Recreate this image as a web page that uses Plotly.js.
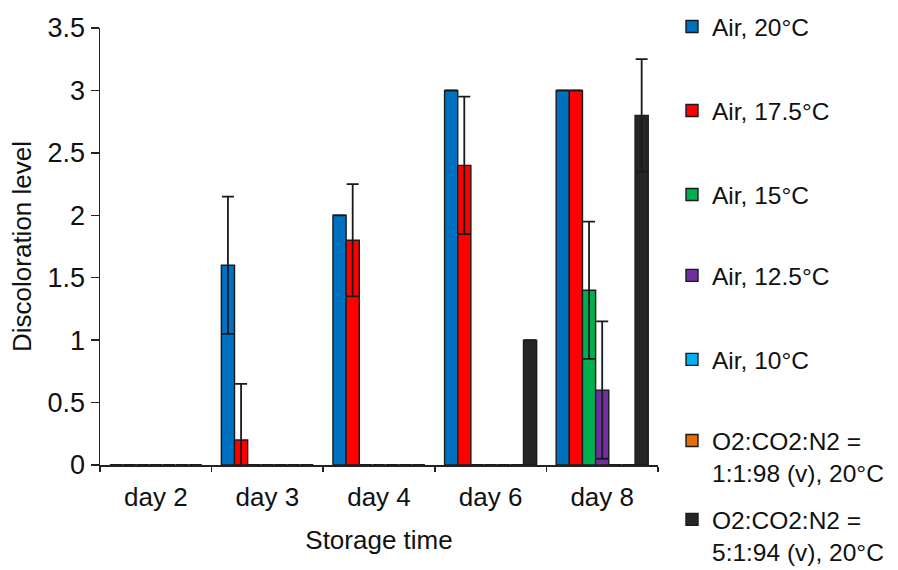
<!DOCTYPE html>
<html>
<head>
<meta charset="utf-8">
<script src="https://cdn.plot.ly/plotly-3.0.1.min.js"></script>
<style>html,body{margin:0;padding:0;background:#fff;}#chart{width:898px;height:570px;}</style>
</head>
<body>
<div id="chart"></div>
<script>
const categories = ['day 2', 'day 3', 'day 4', 'day 6', 'day 8'];
const seriesNames = [
  'Air, 20°C',
  'Air, 17.5°C',
  'Air, 15°C',
  'Air, 12.5°C',
  'Air, 10°C',
  'O2:CO2:N2 =<br>1:1:98 (v), 20°C',
  'O2:CO2:N2 =<br>5:1:94 (v), 20°C'
];
const air20 = [0, 1.6, 2.0, 3.0, 3.0];
const air20Err = [null, 0.55, null, null, null];
const air175 = [0, 0.2, 1.8, 2.4, 3.0];
const air175Err = [null, 0.45, 0.45, 0.55, null];
const air15 = [0, 0, 0, 0, 1.4];
const air15Err = [null, null, null, null, 0.55];
const air125 = [0, 0, 0, 0, 0.6];
const air125Err = [null, null, null, null, 0.55];
const air10 = [0, 0, 0, 0, 0];
const air10Err = [null, null, null, null, null];
const o2a = [0, 0, 0, 0, 0];
const o2aErr = [null, null, null, null, null];
const o2b = [0, 0, 0, 1.0, 2.8];
const o2bErr = [null, null, null, null, 0.45];

const values = [air20, air175, air15, air125, air10, o2a, o2b];
const errors = [air20Err, air175Err, air15Err, air125Err, air10Err, o2aErr, o2bErr];
const colors = ['#0070C0', '#FF0000', '#00B050', '#7030A0', '#00B0F0', '#E46C0A', '#262626'];
// first-line centre of each legend entry, in pixels from the top
const legendTops = [29, 113, 197, 278, 362, 443, 522];

const FONT = 'Liberation Sans, Arial, sans-serif';
const H = 570;

const traces = values.map((v, i) => ({
  type: 'bar',
  name: seriesNames[i],
  x: categories,
  y: v,
  marker: {color: colors[i], line: {color: '#1a1a1a', width: 1.4}},
  error_y: {type: 'data', array: errors[i], visible: true, color: '#1a1a1a', thickness: 1.8, width: 6},
  legend: i === 0 ? 'legend' : 'legend' + (i + 1)
}));

const layout = {
  width: 898, height: H,
  margin: {l: 100, r: 240, t: 27.5, b: 105},
  paper_bgcolor: '#fff', plot_bgcolor: '#fff',
  font: {family: FONT, color: '#111', size: 26},
  barmode: 'group', bargap: 0.175, bargroupgap: 0,
  xaxis: {
    type: 'category',
    showline: true, linecolor: '#222', linewidth: 1.5,
    ticks: 'outside', tickson: 'boundaries', ticklen: 5, tickcolor: '#222', tickwidth: 1.5,
    ticklabelstandoff: 8,
    showgrid: false, zeroline: false,
    tickfont: {size: 26, family: FONT, color: '#111'},
    title: {text: 'Storage time', font: {size: 26, family: FONT, color: '#111'}, standoff: 20},
    automargin: false
  },
  yaxis: {
    range: [0, 3.5], dtick: 0.5, tick0: 0,
    showline: true, linecolor: '#222', linewidth: 1.5,
    ticks: 'outside', ticklen: 8, tickcolor: '#222', tickwidth: 1.5,
    showgrid: false, zeroline: false,
    tickfont: {size: 27, family: FONT, color: '#111'},
    title: {text: 'Discoloration level', font: {size: 26, family: FONT, color: '#111'}, standoff: 8},
    automargin: false
  },
  showlegend: true
};

legendTops.forEach((c, i) => {
  const key = i === 0 ? 'legend' : 'legend' + (i + 1);
  layout[key] = {
    xref: 'container', yref: 'container',
    x: 672 / 898, y: 1 - (c - 25) / H,
    xanchor: 'left', yanchor: 'top',
    valign: 'top',
    bgcolor: 'rgba(0,0,0,0)', borderwidth: 0,
    font: {size: 24.5, family: FONT, color: '#111'}
  };
});

Plotly.newPlot('chart', traces, layout, {displayModeBar: false, staticPlot: true});
</script>
</body>
</html>
